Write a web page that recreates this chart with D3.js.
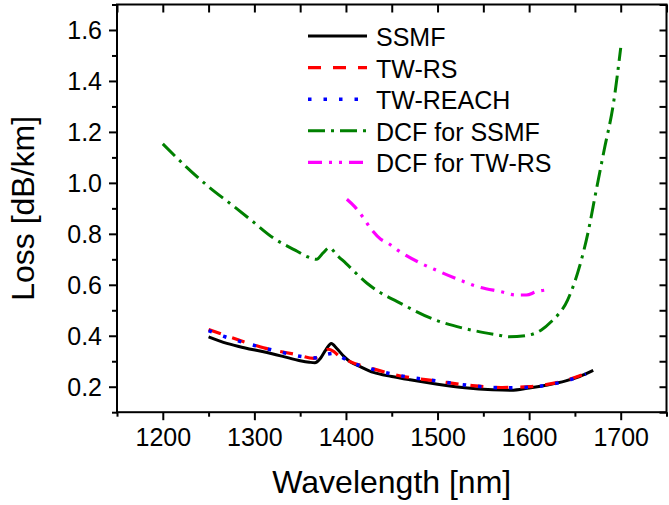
<!DOCTYPE html>
<html>
<head>
<meta charset="utf-8">
<script src="https://cdn.jsdelivr.net/npm/d3@7"></script>
<style>
  html, body { margin: 0; padding: 0; background: #fff; }
  svg { display: block; }
  text { font-family: "Liberation Sans", Arial, sans-serif; fill: #000; }
</style>
</head>
<body>
<svg id="chart" width="669" height="505"></svg>
<script>
// ---- data ----
const seriesNames = ["SSMF", "TW-RS", "TW-REACH", "DCF for SSMF", "DCF for TW-RS"];

const ssmfWl   = [1250,1270,1290,1310,1330,1350,1360,1366,1372,1378,1384,1390,1398,1405,1415,1430,1450,1470,1500,1530,1560,1580,1600,1620,1640,1655,1670];
const ssmfLoss = [0.396,0.370,0.352,0.337,0.320,0.302,0.296,0.294,0.311,0.345,0.370,0.350,0.318,0.297,0.280,0.256,0.240,0.227,0.210,0.196,0.188,0.186,0.195,0.207,0.223,0.240,0.264];

const twrsWl   = [1250,1283,1310,1347,1365,1374,1381,1386,1392,1401,1430,1456,1500,1536,1569,1600,1620,1640,1662];
const twrsLoss = [0.425,0.383,0.353,0.325,0.311,0.333,0.347,0.340,0.322,0.304,0.270,0.245,0.222,0.205,0.197,0.200,0.209,0.225,0.252];

const reachWl   = [1250,1268,1300,1330,1354,1370,1380,1388,1396,1405,1422,1450,1500,1540,1570,1600,1620,1640,1662];
const reachLoss = [0.420,0.396,0.362,0.335,0.317,0.313,0.328,0.331,0.315,0.297,0.276,0.250,0.222,0.203,0.196,0.198,0.207,0.222,0.250];

const dcfSsmfWl   = [1200,1225,1250,1275,1296,1321,1345,1358,1368,1375,1382,1390,1400,1423,1434,1456,1496,1529,1566,1578,1600,1613,1624,1642,1655,1664,1673,1682,1692,1700];
const dcfSsmfLoss = [1.153,1.065,0.985,0.915,0.855,0.783,0.735,0.710,0.700,0.725,0.746,0.717,0.684,0.606,0.577,0.534,0.464,0.429,0.403,0.396,0.403,0.422,0.455,0.540,0.671,0.800,0.966,1.130,1.310,1.530];

const dcfTwrsWl   = [1401,1410,1418,1426,1438,1446,1456,1482,1500,1529,1542,1569,1586,1597,1608,1619];
const dcfTwrsLoss = [0.936,0.905,0.868,0.826,0.779,0.763,0.737,0.684,0.655,0.612,0.595,0.573,0.560,0.560,0.573,0.580];

const xMajorTicks = [1200,1300,1400,1500,1600,1700];
const xMinorTicks = [1150,1250,1350,1450,1550,1650,1750];
const yMajorTicks = [0.2,0.4,0.6,0.8,1.0,1.2,1.4,1.6];
const yMinorTicks = [0.1,0.3,0.5,0.7,0.9,1.1,1.3,1.5,1.7];
const xDomain = [1150, 1750];
const yDomain = [0.1, 1.7];

// ---- layout ----
const L = 117, R = 666.5, T = 4.5, B = 412.2;
const svg = d3.select("#chart");
const x = d3.scaleLinear().domain(xDomain).range([L, R]);
const y = d3.scaleLinear().domain(yDomain).range([B, T]);

const series = [
  {name: seriesNames[0], wl: ssmfWl,    v: ssmfLoss,    color: "#000000", dash: null,               width: 3},
  {name: seriesNames[1], wl: twrsWl,    v: twrsLoss,    color: "#ff0000", dash: "13,12",            width: 3.2},
  {name: seriesNames[2], wl: reachWl,   v: reachLoss,   color: "#0000ff", dash: "3.5,12",           width: 3.5},
  {name: seriesNames[3], wl: dcfSsmfWl, v: dcfSsmfLoss, color: "#008000", dash: "17,6,3,6",         width: 3},
  {name: seriesNames[4], wl: dcfTwrsWl, v: dcfTwrsLoss, color: "#ff00ff", dash: "14,7,3,7,3,7",     width: 3.2}
];

const line = d3.line().x(d => x(d[0])).y(d => y(d[1])).curve(d3.curveMonotoneX);

const drawOrder = [3, 4, 0, 1, 2];
drawOrder.forEach(i => {
  const s = series[i];
  const pts = s.wl.map((w, j) => [w, s.v[j]]);
  svg.append("path")
    .attr("d", line(pts))
    .attr("fill", "none")
    .attr("stroke", s.color)
    .attr("stroke-width", s.width)
    .attr("stroke-dasharray", s.dash)
    .attr("stroke-linejoin", "round");
});

// ---- axes ----
const fsTick = 25;
const gBottom = svg.append("g").attr("transform", `translate(0,${B})`)
  .call(d3.axisBottom(x).tickValues(xMajorTicks).tickSize(8).tickFormat(d3.format("d")));
const gBottomMinor = svg.append("g").attr("transform", `translate(0,${B})`)
  .call(d3.axisBottom(x).tickValues(xMinorTicks).tickSize(4.5).tickFormat(""));
const gTop = svg.append("g").attr("transform", `translate(0,${T})`)
  .call(d3.axisBottom(x).tickValues(xMajorTicks.concat(xMinorTicks)).tickSize(8).tickFormat(""));
const gLeft = svg.append("g").attr("transform", `translate(${L},0)`)
  .call(d3.axisLeft(y).tickValues(yMajorTicks).tickSize(8).tickFormat(d3.format(".1f")));
const gLeftMinor = svg.append("g").attr("transform", `translate(${L},0)`)
  .call(d3.axisLeft(y).tickValues(yMinorTicks).tickSize(5).tickFormat(""));
const gRight = svg.append("g").attr("transform", `translate(${R},0)`)
  .call(d3.axisLeft(y).tickValues(yMajorTicks.concat(yMinorTicks)).tickSize(7).tickFormat(""));

[gBottom, gBottomMinor, gTop, gLeft, gLeftMinor, gRight].forEach(g => {
  g.select(".domain").remove();
  g.selectAll(".tick line").attr("stroke", "#000").attr("stroke-width", 2);
  g.selectAll(".tick text").attr("font-size", fsTick)
    .attr("font-family", '"Liberation Sans", Arial, sans-serif').attr("fill", "#000");
});
gBottom.selectAll(".tick text").attr("y", 16).attr("dy", "0.71em");
gLeft.selectAll(".tick text").attr("x", -15).attr("dy", "0.36em");

svg.append("rect").attr("x", L).attr("y", T).attr("width", R - L).attr("height", B - T)
  .attr("fill", "none").attr("stroke", "#000").attr("stroke-width", 2);

svg.append("text").attr("x", (L + R) / 2).attr("y", 493).attr("text-anchor", "middle")
  .attr("font-size", 32).text("Wavelength [nm]");
svg.append("text").attr("transform", `translate(34,${(T + B) / 2}) rotate(-90)`)
  .attr("text-anchor", "middle").attr("font-size", 32).text("Loss [dB/km]");

const legY0 = 37, legDy = 31.6;
series.forEach((s, i) => {
  const yy = legY0 + i * legDy;
  svg.append("line").attr("x1", 308).attr("x2", 367).attr("y1", yy - 1).attr("y2", yy - 1)
    .attr("stroke", s.color).attr("stroke-width", s.width).attr("stroke-dasharray", s.dash);
  svg.append("text").attr("x", 376).attr("y", yy).attr("dy", "0.36em")
    .attr("font-size", 25).text(s.name);
});
</script>
</body>
</html>
